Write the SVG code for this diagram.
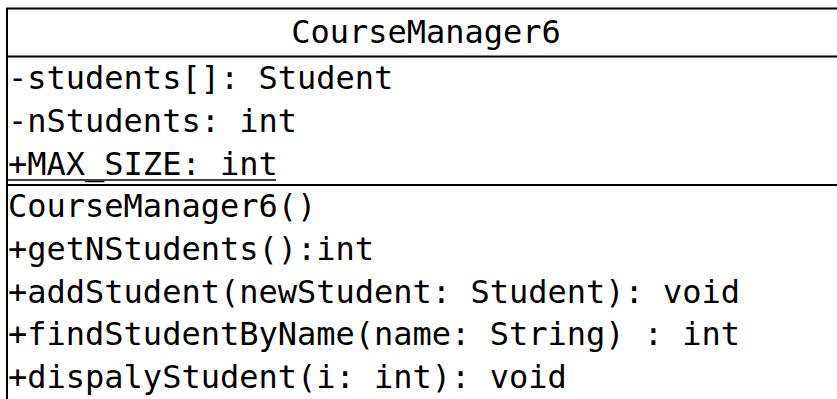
<svg xmlns="http://www.w3.org/2000/svg" width="837" height="399" viewBox="0 0 837 399">
<style>
.t{font-family:"DejaVu Sans Mono","Liberation Mono",monospace;font-size:32px;fill:#000}
.l{stroke:#000;stroke-width:2;fill:none}
</style>
<rect width="837" height="399" fill="#fff"/>
<g id="class-CourseManager6">
<rect class="l" x="7" y="8.5" width="845" height="400"/>
<line class="l" x1="7" y1="56.5" x2="837" y2="56.5"/>
<line class="l" x1="7" y1="185" x2="837" y2="185"/>
<text class="t" x="426" y="43" text-anchor="middle">CourseManager6</text>
<text class="t" x="8" y="89">-students[]: Student</text>
<text class="t" x="8" y="131.5">-nStudents: int</text>
<text class="t" x="8" y="174.5">+MAX_SIZE: int</text>
<line x1="8" y1="180" x2="276" y2="180" stroke="#000" stroke-width="1.6"/>
<text class="t" x="8" y="217">CourseManager6()</text>
<text class="t" x="8" y="260">+getNStudents():int</text>
<text class="t" x="8" y="302.5">+addStudent(newStudent: Student): void</text>
<text class="t" x="8" y="345">+findStudentByName(name: String) : int</text>
<text class="t" x="8" y="388">+dispalyStudent(i: int): void</text>
</g>
<g id="connectors"/>
</svg>
